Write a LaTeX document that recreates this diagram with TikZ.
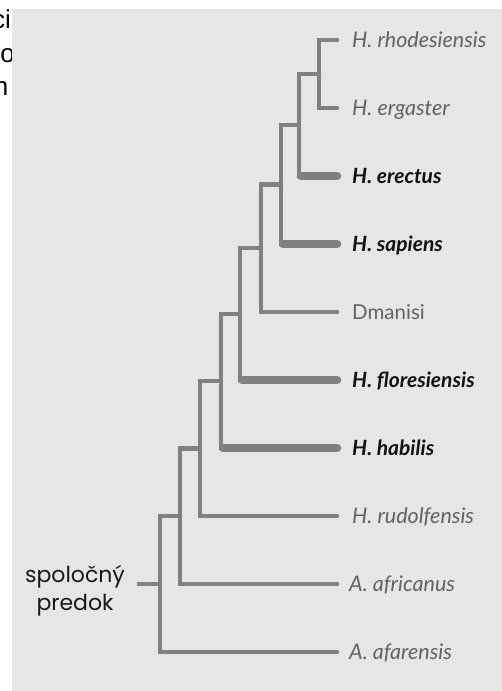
\documentclass[tikz,border=0pt]{standalone}
\usepackage{fontspec}
\setmainfont{Lato}
\newfontfamily\rootfont{Poppins}
\newfontfamily\pagefont{Liberation Sans}
\usepackage{tikz}
\usetikzlibrary{positioning}
\definecolor{panelgray}{RGB}{230,230,230}
\definecolor{branchgray}{RGB}{128,128,128}
\definecolor{labgray}{RGB}{98,98,98}
\definecolor{labdark}{RGB}{18,18,18}

\begin{document}
\begin{tikzpicture}[x=1pt,y=-1pt,
      br/.style={draw=branchgray,line width=4.6pt,line join=miter,line cap=round},
      thick leaf/.style={br,line width=8.5pt},
      sp/.style={anchor=west,inner sep=0pt,text height=14pt,text depth=0pt,
        font=\fontsize{21.5}{24}\selectfont\itshape,text=labgray},
      spb/.style={sp,font=\fontsize{21}{24}\selectfont\bfseries\itshape,text=labdark},
      pg/.style={anchor=base east,inner sep=0pt,font=\pagefont\fontsize{26}{30}\selectfont}]
      \useasboundingbox (0,0) rectangle (502,691);
      % bits of the page text, hidden by the panel
      \node[pg] (pga) at (11,28) {ci};
      \node[pg] (pgb) at (15,62) {o};
      \node[pg] (pgc) at (8.5,95) {n};
      \fill[panelgray] (12,9) rectangle (502,691);

      % species
      \node[sp] (rhod) at (352,40) {H. rhodesiensis};
      \node[sp] (erg) at (352,108) {H. ergaster};
      \node[spb] (erec) at (352,176) {H. erectus};
      \node[spb] (sap) at (352,244) {H. sapiens};
      \node[sp,font=\fontsize{20.5}{24}\selectfont] (dman) at (352,312) {Dmanisi};
      \node[spb] (flor) at (352,380) {H. floresiensis};
      \node[spb] (hab) at (352,448) {H. habilis};
      \node[sp] (rud) at (352,516) {H. rudolfensis};
      \node[sp] (afr) at (349,584) {A. africanus};
      \node[sp] (afa) at (349,652) {A. afarensis};
      \node[align=center,inner sep=0pt,font=\rootfont\fontsize{22}{28}\selectfont,text=black!90] (anc) at (75,591) {spoločný\\predok};

      % branch points (x of the vertical, y of the stub)
      \coordinate (nA) at (319,74);
      \coordinate (nB) at (299,125);
      \coordinate (nC) at (281,184.5);
      \coordinate (nD) at (261,248);
      \coordinate (nE) at (240,314);
      \coordinate (nF) at (221,381);
      \coordinate (nG) at (200,448.5);
      \coordinate (nH) at (180,516);
      \coordinate (nR) at (160,584);
      \coordinate (root) at (137,584);

      \draw[br] ([xshift=-15pt]rhod.west) -| (nA |- erg.west) -- ([xshift=-15pt]erg.west);
      \draw[br] (nA) -| (nB |- erec.west) -- ([xshift=-15pt]erec.west);
      \draw[br] (nB) -| (nC |- sap.west) -- ([xshift=-15pt]sap.west);
      \draw[br] (nC) -| (nD |- dman.west) -- ([xshift=-15pt]dman.west);
      \draw[br] (nD) -| (nE |- flor.west) -- ([xshift=-15pt]flor.west);
      \draw[br] (nE) -| (nF |- hab.west) -- ([xshift=-15pt]hab.west);
      \draw[br] (nF) -| (nG |- rud.west) -- ([xshift=-15pt]rud.west);
      \draw[br] (nG) -| (nH |- afr.west) -- ([xshift=-12pt]afr.west);
      \draw[br] (nH) -| (nR |- afa.west) -- ([xshift=-12pt]afa.west);
      \draw[br,line cap=butt] (root) -- (nR);
      % heavier branches
      \draw[thick leaf] ([xshift=2pt]nB |- erec.west) -- ([xshift=-15pt]erec.west);
      \draw[thick leaf] ([xshift=2pt]nC |- sap.west) -- ([xshift=-15pt]sap.west);
      \draw[thick leaf] ([xshift=2pt]nE |- flor.west) -- ([xshift=-15pt]flor.west);
      \draw[thick leaf] ([xshift=2pt]nF |- hab.west) -- ([xshift=-15pt]hab.west);
    \end{tikzpicture}
\end{document}
